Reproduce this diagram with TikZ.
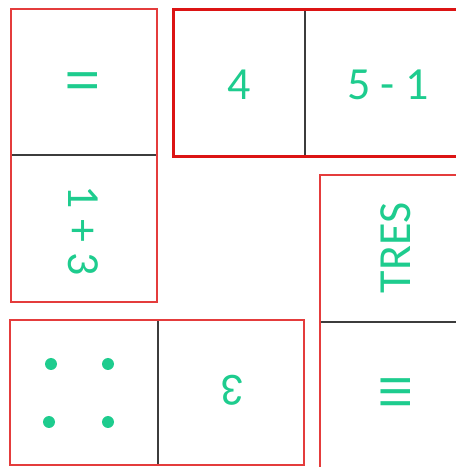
\documentclass[tikz,border=0pt]{standalone}
\usepackage{fontspec}
\setmainfont{Carlito}
\definecolor{tgreen}{RGB}{30,204,142}
\definecolor{lred}{RGB}{228,60,60}
\definecolor{sred}{RGB}{220,20,20}
\definecolor{dgray}{RGB}{60,60,60}
\tikzset{
  dtext/.style={text=tgreen, font=\fontsize{46}{50}\selectfont, inner sep=0pt},
  thinbox/.style={draw=lred, line width=1.5pt},
  thickbox/.style={draw=sred, line width=3pt},
  divider/.style={draw=dgray, line width=1.5pt},
  pip/.style={circle, fill=tgreen, minimum size=12pt, inner sep=0pt},
}
\begin{document}
\begin{tikzpicture}[x=1pt,y=1pt]
\useasboundingbox (0,0) rectangle (456,467);
\clip (0,0) rectangle (456,467);
% left vertical domino
\coordinate (a1) at (11,165);
\coordinate (a2) at (157,458);
\coordinate (al) at (11,312);
\coordinate (ar) at (157,312);
\draw[divider] (al) -- (ar);
\draw[thinbox] (a1) rectangle (a2);
\node[dtext, rotate=90] (aII) at (83,386) {II};
\node[dtext, rotate=-90] (a13) at (83,236) {1 + 3};
% top horizontal domino
\coordinate (b1) at (173,310);
\coordinate (b2) at (470,457);
\coordinate (bt) at (305,457);
\coordinate (bb) at (305,310);
\draw[divider] (bt) -- (bb);
\draw[thickbox] (b1) rectangle (b2);
\node[dtext] (b4) at (239,382) {4};
\node[dtext] (b51) at (388,382) {5 - 1};
% right vertical domino
\coordinate (c1) at (320,-10);
\coordinate (c2) at (470,292);
\coordinate (cl) at (320,145);
\coordinate (cr) at (470,145);
\draw[divider] (cl) -- (cr);
\draw[thinbox] (c1) rectangle (c2);
\node[dtext, rotate=90] (cTRES) at (396,219) {TRES};
\node[dtext, rotate=90] (cIII) at (396,75) {III};
% bottom horizontal domino
\coordinate (d1) at (10,2);
\coordinate (d2) at (304,147);
\coordinate (dt) at (158,147);
\coordinate (db) at (158,2);
\draw[divider] (dt) -- (db);
\draw[thinbox] (d1) rectangle (d2);
\node[pip] (p1) at (51,103) {};
\node[pip] (p2) at (108,103) {};
\node[pip] (p3) at (49,45) {};
\node[pip] (p4) at (108,45) {};
\node[dtext, rotate=180] (d3) at (233,77) {3};
\end{tikzpicture}
\end{document}
